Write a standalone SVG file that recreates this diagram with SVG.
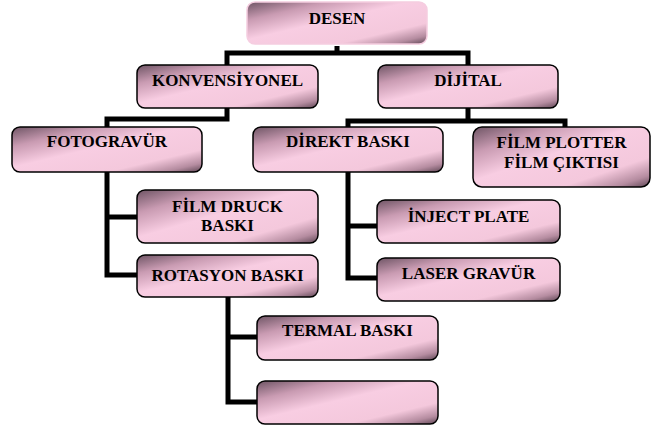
<svg xmlns="http://www.w3.org/2000/svg" width="655" height="426" viewBox="0 0 655 426">
<defs>
<linearGradient id="g" x1="0" y1="0" x2="1" y2="1">
<stop offset="0" stop-color="#6e5464"/>
<stop offset="0.22" stop-color="#c99bb2"/>
<stop offset="0.45" stop-color="#f8cde2"/>
<stop offset="0.75" stop-color="#f4c8dc"/>
<stop offset="0.9" stop-color="#b58ca0"/>
<stop offset="1" stop-color="#5e4654"/>
</linearGradient>
</defs>
<style>
.box{fill:url(#g);stroke:#000;stroke-width:1.5}
.topbox{fill:url(#g);stroke:#f5cde0;stroke-width:1.5}
.conn{fill:none;stroke:#000;stroke-width:5;stroke-linejoin:miter}
</style>
<rect width="655" height="426" fill="#fff"/>
<g id="connectors">
<path class="conn" d="M337,46 V53 M227,53 H468 M227,50.5 V65 M468,50.5 V65"/>
<path class="conn" d="M227,108 V119 H107 V127"/>
<path class="conn" d="M468,108 V121 M348,121 H565 M348,118.5 V127 M565,118.5 V127"/>
<path class="conn" d="M107,172 V275 H137 M107,217 H137"/>
<path class="conn" d="M348,172 V278 H377 M348,226 H377"/>
<path class="conn" d="M228,297 V402 H257 M228,337 H257"/>
</g>
<g font-family="Liberation Serif" font-weight="bold" font-size="17" text-anchor="middle" fill="#000">
<g id="desen"><rect class="topbox" x="247" y="2" width="180" height="42" rx="8"/><text x="337" y="24">DESEN</text></g>
<g id="konvensiyonel"><rect class="box" x="137" y="65" width="181" height="43" rx="8"/><text x="227.5" y="86">KONVENSİYONEL</text></g>
<g id="dijital"><rect class="box" x="378" y="65" width="180" height="43" rx="8"/><text x="468" y="86">DİJİTAL</text></g>
<g id="fotogravur"><rect class="box" x="12" y="127" width="190" height="45" rx="8"/><text x="107" y="147">FOTOGRAVÜR</text></g>
<g id="direkt"><rect class="box" x="253" y="127" width="190" height="45" rx="8"/><text x="348" y="147">DİREKT BASKI</text></g>
<g id="filmplotter"><rect class="box" x="473" y="127" width="177" height="60" rx="9"/><text x="561.5" y="148">FİLM PLOTTER</text><text x="561.5" y="168">FİLM ÇIKTISI</text></g>
<g id="filmdruck"><rect class="box" x="137" y="190" width="181" height="53" rx="8"/><text x="227.5" y="212">FİLM DRUCK</text><text x="227.5" y="231">BASKI</text></g>
<g id="rotasyon"><rect class="box" x="137" y="255" width="181" height="42" rx="8"/><text x="227.5" y="281">ROTASYON BASKI</text></g>
<g id="inject"><rect class="box" x="377" y="200" width="183" height="43" rx="8"/><text x="468.5" y="222">İNJECT PLATE</text></g>
<g id="laser"><rect class="box" x="377" y="258" width="183" height="43" rx="8"/><text x="468.5" y="279">LASER GRAVÜR</text></g>
<g id="termal"><rect class="box" x="257" y="316" width="181" height="44" rx="8"/><text x="347.5" y="336">TERMAL BASKI</text></g>
<g id="empty"><rect class="box" x="257" y="381" width="181" height="43" rx="8"/></g>
</g>
</svg>
